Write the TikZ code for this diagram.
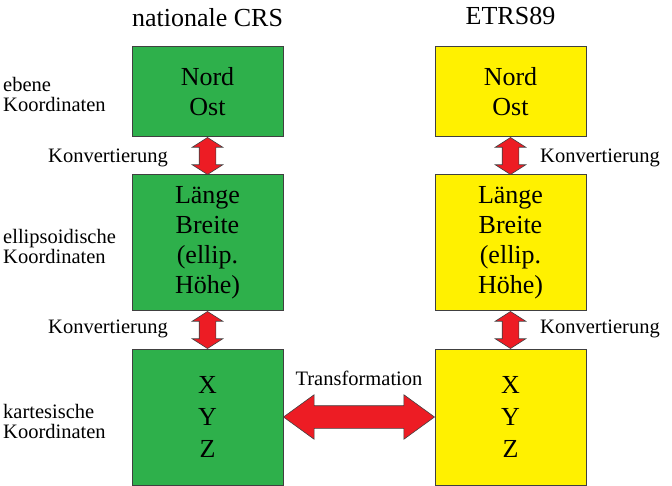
\documentclass[tikz,border=0pt]{standalone}
\usepackage{fontspec}
\setmainfont{Liberation Serif}
\usetikzlibrary{shapes.arrows,calc}

\definecolor{crsgreen}{RGB}{46,176,75}
\definecolor{etrsyellow}{RGB}{255,241,0}
\definecolor{arrowred}{RGB}{237,28,36}
\definecolor{edgegray}{RGB}{64,64,64}

\tikzset{
	crsbox/.style={draw=edgegray, line width=1pt, minimum width=151pt, inner sep=0pt, align=center,
		font=\fontsize{26}{30}\selectfont},
	smalltext/.style={font=\fontsize{20.5}{20}\selectfont, inner sep=0pt, align=left},
	titletext/.style={font=\fontsize{26}{30}\selectfont, inner sep=0pt},
	dblarrow/.style n args={3}{to path={let \p1=($(\tikztotarget)-(\tikztostart)$) in
		($(\tikztostart)!0.5!(\tikztotarget)$) node[double arrow, draw=edgegray, line width=0.6pt,
		fill=arrowred, inner xsep=0pt, inner ysep=#2/2, minimum height={veclen(\x1,\y1)},
		double arrow head extend={(#1-#2)/2}, double arrow tip angle=#3,
		rotate={atan2(\y1,\x1)}] {}}}
}

\begin{document}
\begin{tikzpicture}[x=1pt, y=-1pt]
	\useasboundingbox (0,0) rectangle (672,486);

	% column titles
	\node[titletext, anchor=base] (natcrs) at (207.5,27) {nationale CRS};
	\node[titletext, anchor=base] (etrs) at (510.5,25) {ETRS89};

	% left column
	\node[crsbox, fill=crsgreen, minimum height=90pt] (gEbene) at (207.5,92) {Nord\\Ost};
	\node[crsbox, fill=crsgreen, minimum height=136pt] (gEllip) at (207.5,243) {Länge\\Breite\\(ellip.\\Höhe)};
	\node[crsbox, fill=crsgreen, minimum height=136pt, font=\fontsize{26}{32}\selectfont] (gKart) at (207.5,417) {X\\Y\\Z};

	% right column
	\node[crsbox, fill=etrsyellow, minimum height=90pt] (yEbene) at (510.5,92) {Nord\\Ost};
	\node[crsbox, fill=etrsyellow, minimum height=136pt] (yEllip) at (510.5,243) {Länge\\Breite\\(ellip.\\Höhe)};
	\node[crsbox, fill=etrsyellow, minimum height=136pt, font=\fontsize{26}{32}\selectfont] (yKart) at (510.5,417) {X\\Y\\Z};

	% row labels (base = last line)
	\node[smalltext, anchor=base west] (ebene) at (3,112) {ebene\\Koordinaten};
	\node[smalltext, anchor=base west] (ellip) at (3,264) {ellipsoidische\\Koordinaten};
	\node[smalltext, anchor=base west] (kart) at (3,438) {kartesische\\Koordinaten};

	\foreach \i/\y in {1/163,2/334}{
		\node[smalltext, anchor=base] (konvL\i) at (108,\y) {Konvertierung};
		\node[smalltext, anchor=base] (konvR\i) at (600,\y) {Konvertierung};
	}
	\node[smalltext, anchor=base] (trafo) at (359,385) {Transformation};

	% arrows
	\path (gEbene.south) to[dblarrow={30pt}{16pt}{115}] (gEllip.north);
	\path (gEllip.south) to[dblarrow={30pt}{16pt}{115}] (gKart.north);
	\path (yEbene.south) to[dblarrow={30pt}{16pt}{115}] (yEllip.north);
	\path (yEllip.south) to[dblarrow={30pt}{16pt}{115}] (yKart.north);
	\path (gKart.east) to[dblarrow={44pt}{22pt}{72}] (yKart.west);
\end{tikzpicture}
\end{document}
